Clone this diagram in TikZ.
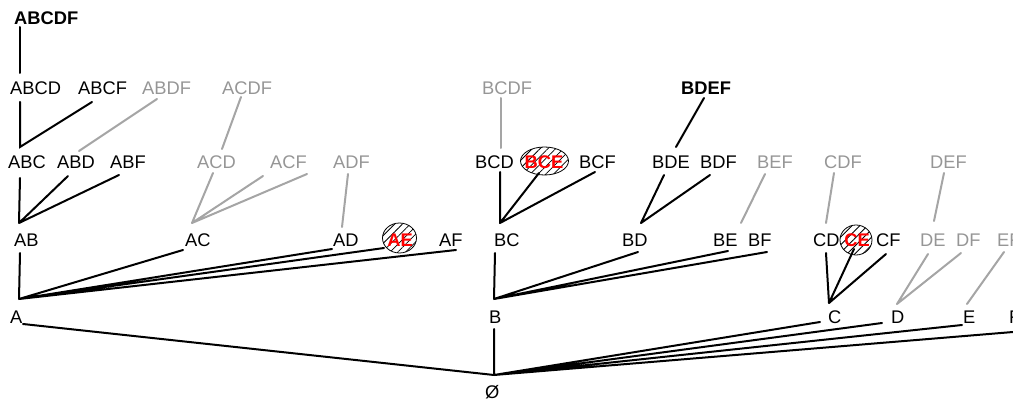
\documentclass[tikz,border=0pt]{standalone}
\usepackage{fontspec}
\setmainfont{Liberation Sans}
\usetikzlibrary{patterns.meta}
\definecolor{lg}{RGB}{150,150,150}
\definecolor{lgl}{RGB}{165,165,165}
\begin{document}
\begin{tikzpicture}[x=1pt,y=-1pt,
 lab/.style={anchor=base west, inner sep=0pt, font=\fontsize{18.3}{20}\selectfont},
 glab/.style={lab, text=lg},
 blab/.style={lab, font=\fontsize{18.3}{20}\selectfont\bfseries},
 rlab/.style={anchor=base, inner sep=0pt, text=red, font=\fontsize{18.3}{20}\selectfont\bfseries},
 hatch/.style={draw=black, line width=0.8pt, pattern={Lines[angle=45,distance=5.5pt,line width=0.8pt]}},
 edge/.style={line width=2pt, line cap=round},
 gedge/.style={edge, draw=lgl}]
\useasboundingbox (0,0) rectangle (1013,401);
% hatched ellipses
\path[hatch] (544.5,161) ellipse [x radius=24, y radius=14];
\path[hatch] (399.5,238) ellipse [x radius=17, y radius=15];
\path[hatch] (856,240) ellipse [x radius=16, y radius=15];
% level 5
\node[blab] (ABCDF) at (14,25) {ABCDF};
% level 4
\node[lab] (ABCD) at (10,95) {ABCD};
\node[lab] (ABCF) at (78,95) {ABCF};
\node[glab] (ABDF) at (142,95) {ABDF};
\node[glab] (ACDF) at (222,95) {ACDF};
\node[glab] (BCDF) at (482,95) {BCDF};
\node[blab] (BDEF) at (681,95) {BDEF};
% level 3
\node[lab] (ABC) at (8,169) {ABC};
\node[lab] (ABD) at (57,169) {ABD};
\node[lab] (ABF) at (110,169) {ABF};
\node[glab] (ACD) at (197,169) {ACD};
\node[glab] (ACF) at (270,169) {ACF};
\node[glab] (ADF) at (333,169) {ADF};
\node[lab] (BCD) at (475,169) {BCD};
\node[rlab] (BCE) at (544,169) {BCE};
\node[lab] (BCF) at (579,169) {BCF};
\node[lab] (BDE) at (652,169) {BDE};
\node[lab] (BDF) at (700,169) {BDF};
\node[glab] (BEF) at (757,169) {BEF};
\node[glab] (CDF) at (824,169) {CDF};
\node[glab] (DEF) at (930,169) {DEF};
% level 2
\node[lab] (AB) at (14,247) {AB};
\node[lab] (AC) at (185,247) {AC};
\node[lab] (AD) at (333,247) {AD};
\node[rlab] (AE) at (400,247) {AE};
\node[lab] (AF) at (439,247) {AF};
\node[lab] (BC) at (494,247) {BC};
\node[lab] (BD) at (622,247) {BD};
\node[lab] (BE) at (713,247) {BE};
\node[lab] (BF) at (748,247) {BF};
\node[lab] (CD) at (813,247) {CD};
\node[rlab] (CE) at (857,247) {CE};
\node[lab] (CF) at (876,247) {CF};
\node[glab] (DE) at (920,247) {DE};
\node[glab] (DF) at (956,247) {DF};
\node[glab] (EF) at (997,247) {EF};
% level 1
\node[lab] (A) at (10,323) {A};
\node[lab] (B) at (489,323) {B};
\node[lab] (C) at (828,323) {C};
\node[lab] (D) at (891,323) {D};
\node[lab] (E) at (963,323) {E};
\node[lab] (F) at (1009,323) {F};
% level 0
\node[lab] (O) at (485,398) {Ø};
% connection points
\coordinate (ABCDF-b) at (20,27);
\coordinate (ABCD-t) at (20,73);  \coordinate (ABCD-b) at (20,102);
\coordinate (ABCF-b) at (92,102);
\coordinate (ABDF-b) at (157,99);
\coordinate (ACDF-b) at (241,97);
\coordinate (BCDF-b) at (501,98);
\coordinate (BDEF-b) at (704,98);
\coordinate (ABC-t) at (20,147); \coordinate (ABC-b) at (20,178);
\coordinate (ABD-t) at (79,151); \coordinate (ABD-b) at (68,176);
\coordinate (ABF-b) at (119,175);
\coordinate (ACD-t) at (222,149); \coordinate (ACD-b) at (213,173);
\coordinate (ACF-b) at (263,176); \coordinate (ACF-c) at (307,174);
\coordinate (ADF-b) at (348,174);
\coordinate (BCD-t) at (501,148); \coordinate (BCD-b) at (500,172);
\coordinate (BCE-b) at (539,173);
\coordinate (BCF-b) at (595,172);
\coordinate (BDE-t) at (676,147); \coordinate (BDE-b) at (664,175);
\coordinate (BDF-b) at (710,175);
\coordinate (BEF-b) at (765,174);
\coordinate (CDF-b) at (834,173);
\coordinate (DEF-b) at (944,173);
\coordinate (AB-t) at (19,223); \coordinate (AB-b) at (20,253);
\coordinate (AC-t) at (192,223); \coordinate (AC-b) at (183,250);
\coordinate (AD-t) at (342,227); \coordinate (AD-b) at (332,249);
\coordinate (AE-b) at (384,248);
\coordinate (AF-b) at (456,250);
\coordinate (BC-t) at (500,223); \coordinate (BC-b) at (495,253);
\coordinate (BD-t) at (641,223); \coordinate (BD-b) at (638,252);
\coordinate (BE-t) at (741,223); \coordinate (BE-b) at (728,251);
\coordinate (BF-b) at (767,252);
\coordinate (CD-t) at (826,223); \coordinate (CD-b) at (826,253);
\coordinate (CE-b) at (854,249);
\coordinate (CF-b) at (886,254);
\coordinate (DE-t) at (934,221); \coordinate (DE-b) at (928,254);
\coordinate (DF-b) at (961,253);
\coordinate (EF-b) at (1004,252);
\coordinate (A-t) at (19,299); \coordinate (A-b) at (23,324);
\coordinate (B-t) at (494,299); \coordinate (B-b) at (494,329);
\coordinate (C-t) at (829,303); \coordinate (C-b) at (820,322);
\coordinate (D-t) at (897,304); \coordinate (D-b) at (882,323);
\coordinate (E-t) at (967,304); \coordinate (E-b) at (962,325);
\coordinate (F-b) at (1013,332);
\coordinate (O-t) at (494,375);
% black edges
\draw[edge] (ABCDF-b) -- (ABCD-t);
\draw[edge] (ABCD-b) -- (ABC-t) -- (ABCF-b);
\draw[edge] (BDEF-b) -- (BDE-t);
\draw[edge] (ABC-b) -- (AB-t) (ABD-b) -- (AB-t) (ABF-b) -- (AB-t);
\draw[edge] (BCD-b) -- (BC-t) (BCE-b) -- (BC-t) (BCF-b) -- (BC-t);
\draw[edge] (BDE-b) -- (BD-t) (BDF-b) -- (BD-t);
\draw[edge] (AB-b) -- (A-t) (AC-b) -- (A-t) (AD-b) -- (A-t) (AE-b) -- (A-t) (AF-b) -- (A-t);
\draw[edge] (BC-b) -- (B-t) (BD-b) -- (B-t) (BE-b) -- (B-t) (BF-b) -- (B-t);
\draw[edge] (CD-b) -- (C-t) (CE-b) -- (C-t) (CF-b) -- (C-t);
\draw[edge] (A-b) -- (O-t) (B-b) -- (O-t) (C-b) -- (O-t) (D-b) -- (O-t) (E-b) -- (O-t) (F-b) -- (O-t);
% gray edges
\draw[gedge] (ABDF-b) -- (ABD-t);
\draw[gedge] (ACDF-b) -- (ACD-t);
\draw[gedge] (BCDF-b) -- (BCD-t);
\draw[gedge] (ACD-b) -- (AC-t) (ACF-b) -- (AC-t) (ACF-c) -- (AC-t);
\draw[gedge] (ADF-b) -- (AD-t);
\draw[gedge] (BEF-b) -- (BE-t);
\draw[gedge] (CDF-b) -- (CD-t);
\draw[gedge] (DEF-b) -- (DE-t);
\draw[gedge] (DE-b) -- (D-t) (DF-b) -- (D-t);
\draw[gedge] (EF-b) -- (E-t);
\end{tikzpicture}
\end{document}
